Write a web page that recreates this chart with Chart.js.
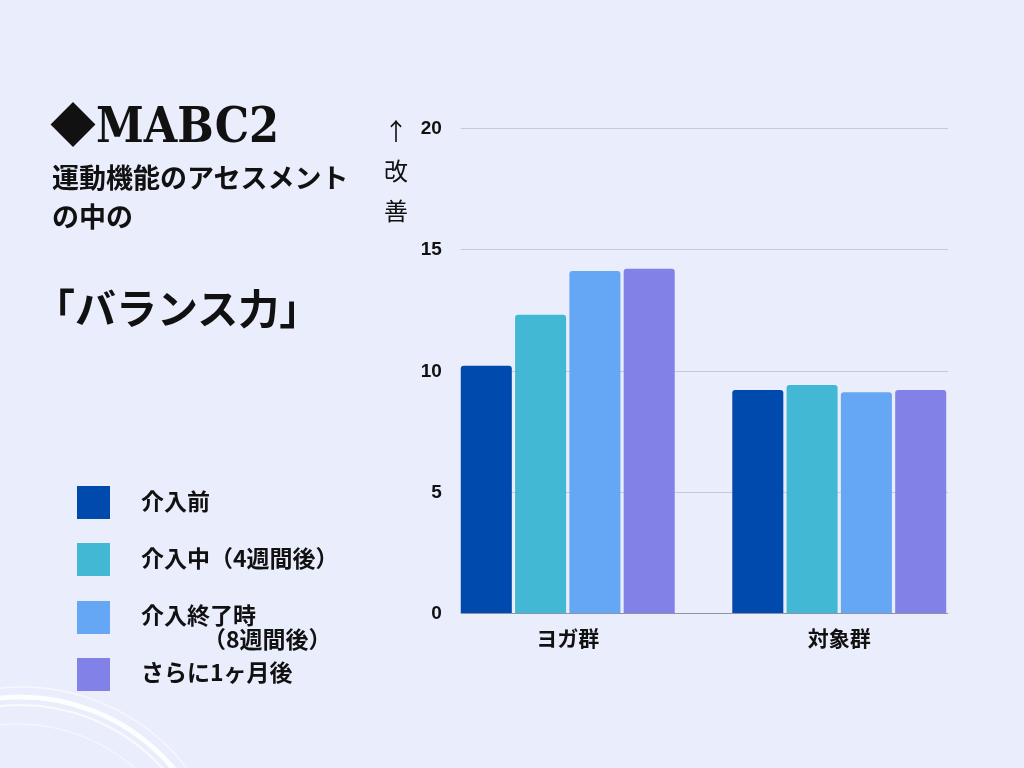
<!DOCTYPE html>
<html lang="ja">
<head>
<meta charset="utf-8">
<title>MABC2 バランス力</title>
<script src="https://cdn.jsdelivr.net/npm/chart.js@4.4.1/dist/chart.umd.min.js"></script>
<style>
  html, body { margin: 0; padding: 0; }
  body {
    width: 1024px; height: 768px; overflow: hidden; position: relative;
    background: #eaedfc; color: #111;
    font-family: 'Noto Sans CJK JP', sans-serif;
  }
  #chart { position: absolute; left: 0; top: 0; }
  .abs { position: absolute; white-space: nowrap; }
  #diamond { left: 50px; top: 98px; font: 46px/46px 'Noto Sans CJK JP'; }
  #title { left: 96px; top: 101px; font: bold 48px/48px 'DejaVu Serif Condensed', 'DejaVu Serif', serif; font-stretch: condensed; }
  #sub { left: 52px; top: 157px; font: bold 27px/39px 'Noto Sans CJK JP'; }
  #balance { left: 34px; top: 276px; font: bold 41px/60px 'Noto Sans CJK JP'; }
  #ylabel { left: 381px; top: 110px; width: 30px; text-align: center; font: 400 24px/40px 'Noto Sans CJK JP'; }
  .sw { position: absolute; left: 77px; width: 33px; height: 33px; }
  .lt { position: absolute; left: 141px; font: bold 23px/24px 'Noto Sans CJK JP'; }
  .lt .l2 { padding-left: 62px; }
  #deco { position: absolute; left: 0; top: 0; }
</style>
</head>
<body>
<svg id="deco" width="1024" height="768">
  <g fill="none" stroke="#ffffff">
    <circle cx="20" cy="897" r="200" stroke-width="5" opacity="0.9"/>
    <circle cx="20" cy="897" r="192" stroke-width="2" opacity="0.7"/>
    <circle cx="22" cy="895" r="208" stroke-width="1.5" opacity="0.6"/>
    <circle cx="18" cy="900" r="176" stroke-width="1.5" opacity="0.5"/>
  </g>
</svg>
<canvas id="chart" width="1024" height="768"></canvas>
<div class="abs" id="diamond">◆</div>
<div class="abs" id="title">MABC2</div>
<div class="abs" id="sub">運動機能のアセスメント<br>の中の</div>
<div class="abs" id="balance">「バランス力」</div>
<div class="abs" id="ylabel">↑<br>改<br>善</div>
<div id="legend"></div>
<script>
// Data
const groups = ['ヨガ群', '対象群'];
const seriesNames = ['介入前', '介入中（4週間後）', '介入終了時\n（8週間後）', 'さらに1ヶ月後'];
const beforeValues = [10.2, 9.2];
const midValues = [12.3, 9.4];
const endValues = [14.1, 9.1];
const laterValues = [14.2, 9.2];
const yTicks = [0, 5, 10, 15, 20];

const seriesValues = [beforeValues, midValues, endValues, laterValues];
const colors = ['#014aad', '#43b8d5', '#65a6f5', '#8181e8'];

// Legend (HTML, left side)
const legend = document.getElementById('legend');
seriesNames.forEach((name, i) => {
    const top = 486 + i * 57.3;
    const sw = document.createElement('div');
    sw.className = 'sw';
    sw.style.top = top + 'px';
    sw.style.background = colors[i];
    legend.appendChild(sw);

    const lines = name.split('\n');
    const lt = document.createElement('div');
    lt.className = 'lt';
    lt.style.top = (top + 16.5 - 15) + 'px';
    lt.innerHTML = lines.map((l, j) => `<div class="${j ? 'l2' : ''}">${l}</div>`).join('');
    legend.appendChild(lt);
});

// Grid lines only across the bar groups, y labels just right of the axis edge
const gridPlugin = {
    id: 'groupGrid',
    beforeDatasetsDraw(chart) {
        drawLines(chart, false);
        drawYLabels(chart);
    },
    afterDatasetsDraw(chart) {
        drawLines(chart, true);
    }
};

function barSpan(chart) {
    const first = chart.getDatasetMeta(0).data[0];
    const lastData = chart.getDatasetMeta(seriesValues.length - 1).data;
    const last = lastData[lastData.length - 1];
    return [first.x - first.width / 2, last.x + last.width / 2 + 2];
}

function drawLines(chart, baseline) {
    const ctx = chart.ctx;
    const yScale = chart.scales.y;
    const [x0, x1] = barSpan(chart);
    ctx.save();
    yScale.ticks.forEach(t => {
        if ((t.value === 0) !== baseline) return;
        const py = Math.round(yScale.getPixelForValue(t.value)) + 0.5;
        ctx.strokeStyle = baseline ? '#8d91aa' : '#c6c9de';
        ctx.lineWidth = 1;
        ctx.beginPath();
        ctx.moveTo(x0, py);
        ctx.lineTo(x1, py);
        ctx.stroke();
    });
    ctx.restore();
}

function drawYLabels(chart) {
    const ctx = chart.ctx;
    const yScale = chart.scales.y;
    const [x0] = barSpan(chart);
    ctx.save();
    ctx.font = "bold 19px 'Liberation Sans', Arial, sans-serif";
    ctx.fillStyle = '#111';
    ctx.textAlign = 'right';
    ctx.textBaseline = 'middle';
    yScale.ticks.forEach(t => {
        ctx.fillText(String(t.value), x0 - 19, yScale.getPixelForValue(t.value) + 1);
    });
    ctx.restore();
}

const ctx = document.getElementById('chart').getContext('2d');
const chart = new Chart(ctx, {
    type: 'bar',
    data: {
        labels: groups,
        datasets: seriesValues.map((vals, i) => ({
            label: seriesNames[i],
            data: vals,
            backgroundColor: colors[i],
            borderRadius: { topLeft: 3, topRight: 3 },
            borderSkipped: 'start',
            categoryPercentage: 0.8,
            barPercentage: 0.94
        }))
    },
    options: {
        responsive: false,
        animation: false,
        layout: { padding: { left: 392, right: 49, top: 128, bottom: 115 } },
        plugins: {
            legend: { display: false },
            tooltip: { enabled: false }
        },
        scales: {
            y: {
                min: 0,
                max: 20,
                afterBuildTicks(scale) {
                    scale.ticks = yTicks.map(v => ({ value: v }));
                },
                afterFit(scale) { scale.width = 40; },
                grid: { display: false, drawTicks: false },
                border: { display: false },
                ticks: { display: false }
            },
            x: {
                afterFit(scale) { scale.height = 40; },
                grid: { display: false, drawTicks: false },
                border: { display: false },
                ticks: {
                    padding: 12,
                    color: '#111',
                    font: { family: "'Noto Sans CJK JP', sans-serif", size: 21, weight: 'bold' }
                }
            }
        }
    },
    plugins: [gridPlugin]
});
</script>
</body>
</html>
